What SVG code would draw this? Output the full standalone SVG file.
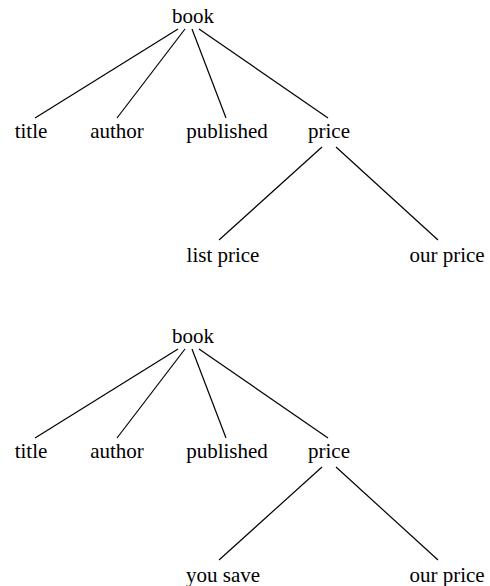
<svg xmlns="http://www.w3.org/2000/svg" width="490" height="586" viewBox="0 0 490 586">
<style>
text{font-family:"Liberation Serif","Times New Roman",serif;font-size:21px;fill:#000;text-anchor:middle}
line{stroke:#000;stroke-width:1.2}
</style>
<rect width="490" height="586" fill="#fff"/>
<g id="connectors">
<line x1="178" y1="29" x2="35" y2="118"/>
<line x1="185" y1="29" x2="117" y2="118"/>
<line x1="192" y1="29" x2="226" y2="118"/>
<line x1="199" y1="29" x2="328" y2="118"/>
<line x1="322" y1="147" x2="219" y2="240"/>
<line x1="336" y1="147" x2="438" y2="240"/>
<line x1="178" y1="349" x2="35" y2="438"/>
<line x1="185" y1="349" x2="117" y2="438"/>
<line x1="192" y1="349" x2="226" y2="438"/>
<line x1="199" y1="349" x2="328" y2="438"/>
<line x1="322" y1="467" x2="219" y2="560"/>
<line x1="336" y1="467" x2="438" y2="560"/>
</g>
<g id="t1-book"><text x="193" y="23">book</text></g>
<g id="t1-title"><text x="31" y="138">title</text></g>
<g id="t1-author"><text x="117" y="138">author</text></g>
<g id="t1-published"><text x="227" y="138">published</text></g>
<g id="t1-price"><text x="329" y="138">price</text></g>
<g id="t1-listprice"><text x="223" y="262">list price</text></g>
<g id="t1-ourprice"><text x="447" y="262">our price</text></g>
<g id="t2-book"><text x="193" y="343">book</text></g>
<g id="t2-title"><text x="31" y="458">title</text></g>
<g id="t2-author"><text x="117" y="458">author</text></g>
<g id="t2-published"><text x="227" y="458">published</text></g>
<g id="t2-price"><text x="329" y="458">price</text></g>
<g id="t2-yousave"><text x="223" y="582">you save</text></g>
<g id="t2-ourprice"><text x="447" y="582">our price</text></g>
</svg>
